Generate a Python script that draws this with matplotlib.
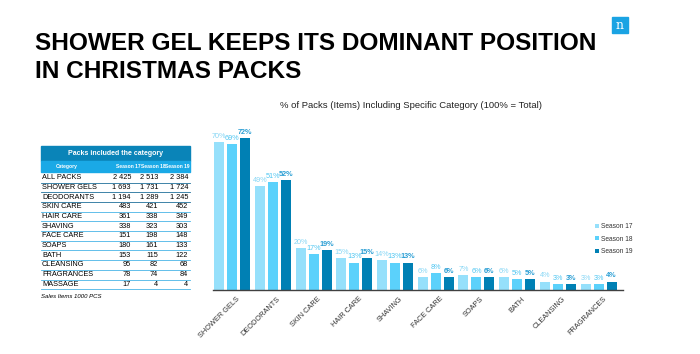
import matplotlib
matplotlib.use('Agg')
import matplotlib.pyplot as plt
import numpy as np
from matplotlib.patches import Rectangle

# chart data
categories = ['SHOWER GELS', 'DEODORANTS', 'SKIN CARE', 'HAIR CARE', 'SHAVING',
              'FACE CARE', 'SOAPS', 'BATH', 'CLEANSING', 'FRAGRANCES']
season17 = [70, 49, 20, 15, 14, 6, 7, 6, 4, 3]
season18 = [69, 51, 17, 13, 13, 8, 6, 5, 3, 3]
season19 = [72, 52, 19, 15, 13, 6, 6, 5, 3, 4]
seasons = ['Season 17', 'Season 18', 'Season 19']

# table data
tbl_rows = ['ALL PACKS', 'SHOWER GELS', 'DEODORANTS', 'SKIN CARE', 'HAIR CARE', 'SHAVING',
            'FACE CARE', 'SOAPS', 'BATH', 'CLEANSING', 'FRAGRANCES', 'MASSAGE']
tbl_s17 = ['2 425', '1 693', '1 194', '483', '361', '338', '151', '180', '153', '95', '78', '17']
tbl_s18 = ['2 513', '1 731', '1 289', '421', '338', '323', '198', '161', '115', '82', '74', '4']
tbl_s19 = ['2 384', '1 724', '1 245', '452', '349', '303', '148', '133', '122', '68', '84', '4']

bar_cols = ['#96e0fb', '#5bd1fb', '#0080b4']
lab_cols = ['#86d6f5', '#4fc6f2', '#2a9ed4']

plt.rcParams['font.family'] = ['Liberation Sans', 'DejaVu Sans']
fig = plt.figure(figsize=(7, 3.54), dpi=100)

# bar chart
W, H = 700.0, 354.0
ax = fig.add_axes([213/W, (H-290)/H, 410/W, 169/H])
x = np.arange(len(categories))
bw = 0.245
step = 0.32
for i, vals in enumerate([season17, season18, season19]):
    pos = x + (i-1)*step
    ax.bar(pos, vals, bw, color=bar_cols[i], label=seasons[i])
    for p, v in zip(pos, vals):
        ax.text(p, v+1.0, '%d%%' % v, ha='center', va='bottom', fontsize=5.2,
                color=lab_cols[i], fontweight='bold' if i == 2 else 'normal')
ax.set_xlim(-0.47, 9.6)
ax.set_ylim(0, 80)
for s in ['top', 'right', 'left']:
    ax.spines[s].set_visible(False)
ax.spines['bottom'].set_color('#404040')
ax.spines['bottom'].set_linewidth(1.0)
ax.set_yticks([])
ax.set_xticks(x+0.1)
ax.set_xticklabels(categories, rotation=45, ha='right', rotation_mode='anchor',
                   fontsize=5.3, color='#333333')
ax.tick_params(axis='x', length=0, pad=4)
leg = ax.legend(loc='upper left', bbox_to_anchor=(0.925, 0.41), frameon=False,
                fontsize=4.8, handlelength=0.55, handleheight=0.55, handletextpad=0.4,
                labelspacing=0.8, borderaxespad=0)
for t in leg.get_texts():
    t.set_color('#333333')

# overlay in pixel coordinates for title, logo and table
ov = fig.add_axes([0, 0, 1, 1], zorder=-1)
ov.set_xlim(0, W)
ov.set_ylim(H, 0)
ov.axis('off')

ov.text(35, 43, 'SHOWER GEL KEEPS ITS DOMINANT POSITION', fontsize=17.6,
        fontweight='bold', va='center', ha='left', color='black')
ov.text(35, 72, 'IN CHRISTMAS PACKS', fontsize=17.6,
        fontweight='bold', va='center', ha='left', color='black')

ov.add_patch(Rectangle((612, 17), 16, 16, color='#1aa3e3'))
ov.text(620, 25.5, 'n', fontsize=9, family='DejaVu Serif', color='white',
        ha='center', va='center')

ov.text(411, 105, '% of Packs (Items) Including Specific Category (100% = Total)',
        fontsize=6.8, ha='center', va='center', color='#222222')

# table
tl, tr = 41, 190
ov.add_patch(Rectangle((tl, 145.5), tr-tl, 15, color='#0a84b8'))
ov.add_patch(Rectangle((tl, 161), tr-tl, 11, color='#1aa9e6'))
ov.text((tl+tr)/2, 153.5, 'Packs included the category', fontsize=5, color='white',
        fontweight='bold', ha='center', va='center')
hx = [67, 128, 153, 177.5]
for hxx, lbl in zip(hx, ['Category'] + seasons):
    ov.text(hxx, 166.7, lbl, fontsize=3.6, color='white', fontweight='bold',
            ha='center', va='center')
row0, rstep = 177.7, 9.7
for k, name in enumerate(tbl_rows):
    yy = row0 + k*rstep
    ov.text(tl+1, yy, name, fontsize=5.3, ha='left', va='center', color='black')
    ov.text(131, yy, tbl_s17[k], fontsize=5.3, ha='right', va='center', color='black')
    ov.text(158, yy, tbl_s18[k], fontsize=5.3, ha='right', va='center', color='black')
    ov.text(188, yy, tbl_s19[k], fontsize=5.3, ha='right', va='center', color='black')
    lc = '#1f6f9a' if k < 3 else '#49b4e6'
    ov.plot([tl, tr], [yy+4.8, yy+4.8], color=lc, lw=0.6)
ov.text(tl, 296, 'Sales Items 1000 PCS', fontsize=4.3, style='italic',
        ha='left', va='center', color='black')

fig.savefig('out.png', dpi=100)
